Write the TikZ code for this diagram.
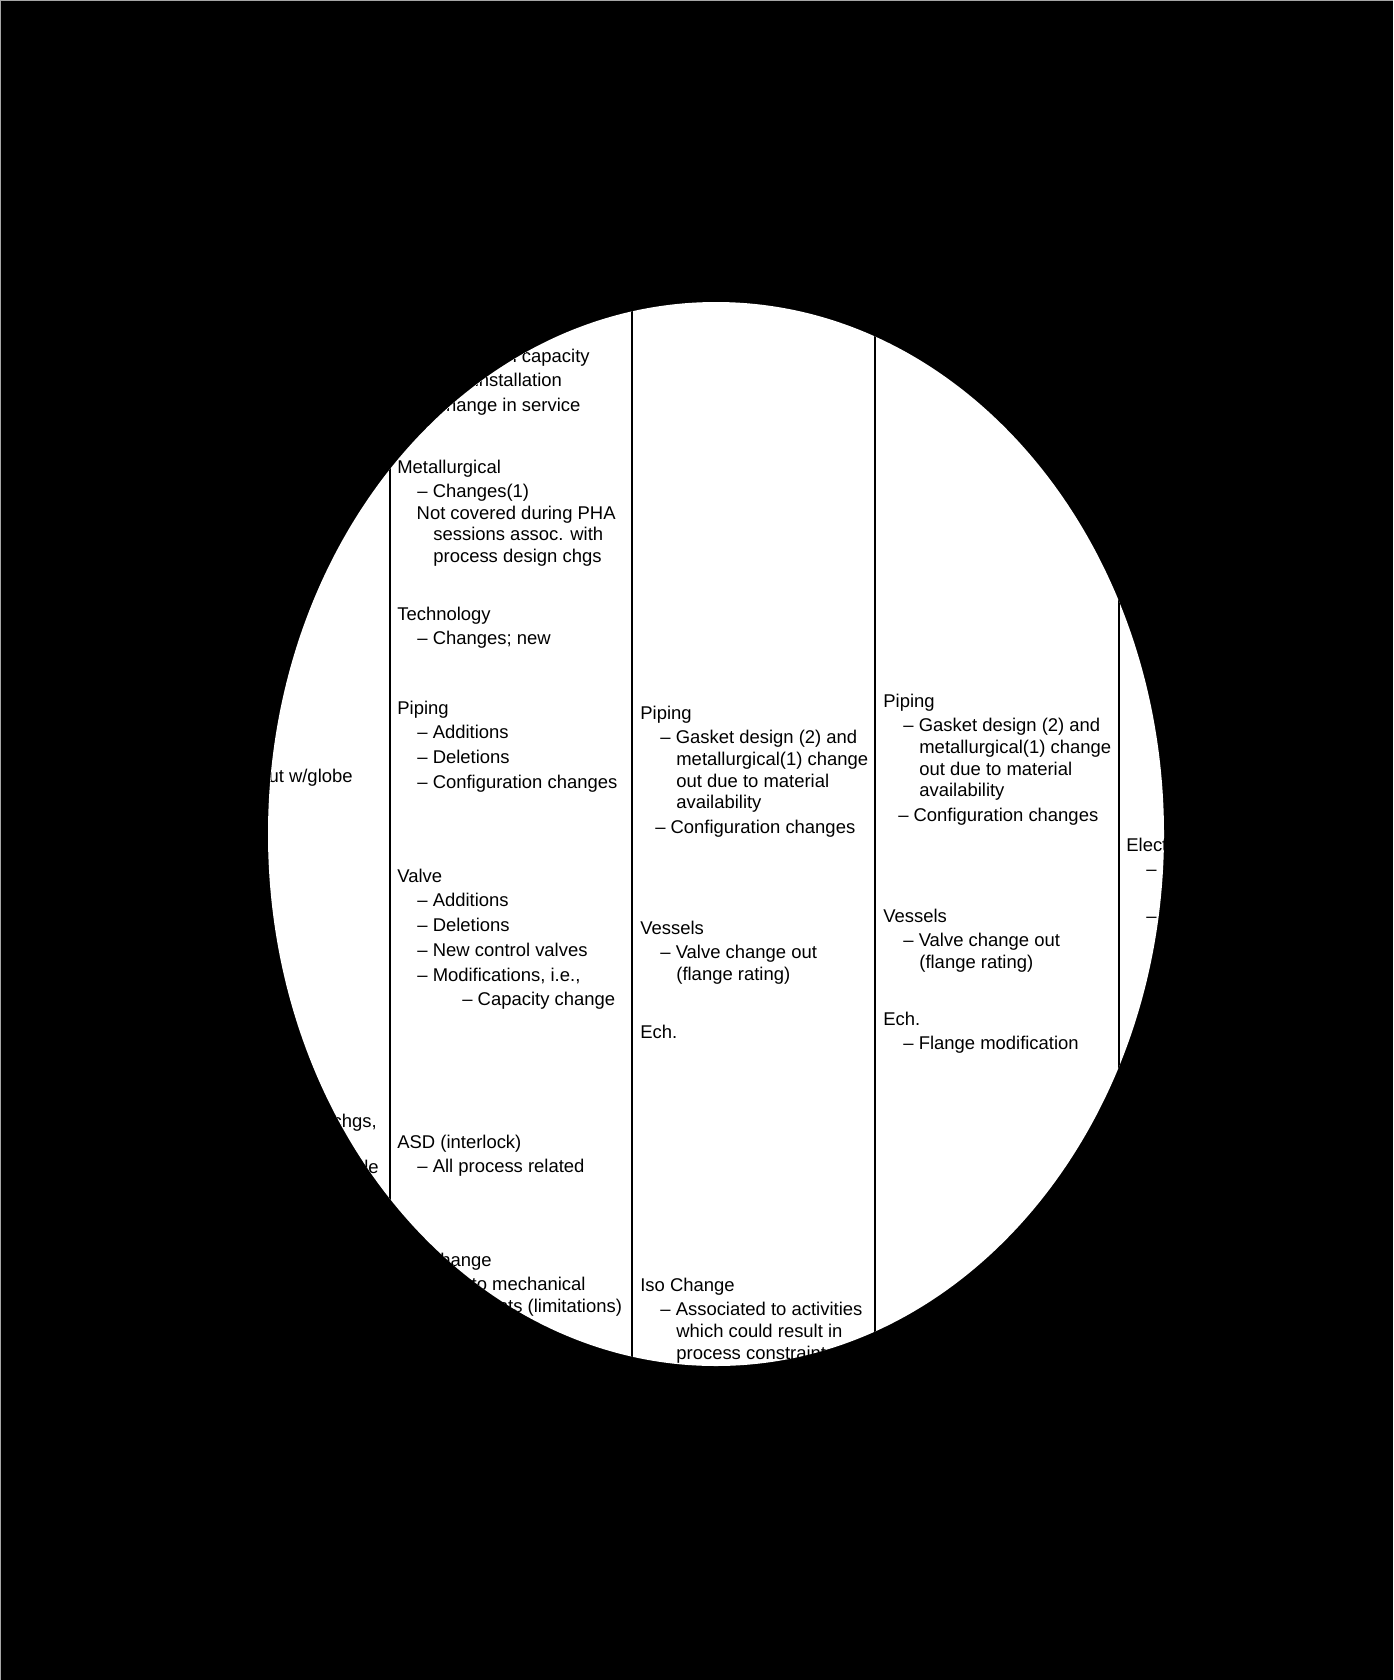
\documentclass[tikz,border=0pt]{standalone}
\usepackage{fontspec}
\setmainfont{Liberation Sans}
\newcommand\chartfont{\fontsize{10.5}{12.3}\selectfont}
\newcommand\itm{\hspace*{11.4pt}–\ }
\newcommand\itmc{\hspace*{8.5pt}–\ }
\newcommand\subitm{\hspace*{37pt}–\ }
\newcommand\cnt{\hspace*{20.5pt}}
\newcommand\blk[1]{\begin{tabular}[t]{@{}l@{}}#1\end{tabular}}
\tikzset{
  block/.style={anchor=base west, inner sep=0pt, font=\chartfont},
  stub/.style={anchor=base east, inner sep=0pt, font=\chartfont},
  colline/.style={line width=1.15pt}
}
\begin{document}
\begin{tikzpicture}[x=0.02cm, y=-0.02cm]
	\useasboundingbox (0,0) rectangle (1393,1680);
	\fill[black] (0,0) rectangle (1393,1680);
	\draw[gray!70, line width=0.6pt] (0.5,1680) -- (0.5,0.5) -- (1393,0.5);
	\begin{scope}
		\clip (716,834) ellipse [x radius=448, y radius=532];
		\fill[white] (0,0) rectangle (1393,1680);
		\foreach \cx in {390,632,875,1119}
			\draw[colline] (\cx,0) -- (\cx,1680);
		% first column (mostly hidden)
		\node[stub] (globe1) at (353,782) {out w/globe};
		\node[stub] (chgs1) at (377,1127) {chgs,};
		\node[stub] (le1) at (379,1173) {le};
		% second column
		\node[block] (capchg2) at (397,362) {\blk{\itm Change in capacity\\[1.8pt]\itm New installation\\[1.8pt]\itm Change in service}};
		\node[block] (metal2) at (397,473) {\blk{Metallurgical\\[1.8pt]\itm Changes(1)\\ \hspace*{11pt}Not covered during PHA\\ \cnt sessions assoc. with\\ \cnt process design chgs}};
		\node[block] (tech2) at (397,620) {\blk{Technology\\[1.8pt]\itm Changes; new}};
		\node[block] (pipe2) at (397,714) {\blk{Piping\\[1.8pt]\itm Additions\\[1.8pt]\itm Deletions\\[1.8pt]\itm Configuration changes}};
		\node[block] (valve2) at (397,882) {\blk{Valve\\[1.8pt]\itm Additions\\[1.8pt]\itm Deletions\\[1.8pt]\itm New control valves\\[1.8pt]\itm Modifications, i.e.,\\[1.8pt]\subitm Capacity change}};
		\node[block] (asd2) at (397,1148) {\blk{ASD (interlock)\\[1.8pt]\itm All process related}};
		\node[block] (iso2) at (397,1266) {\blk{Iso Change\\[1.8pt]\itm Due to mechanical\\ \cnt constraints (limitations)}};
		% third column
		\node[block] (pipe3) at (640,719) {\blk{Piping\\[1.8pt]\itm Gasket design (2) and\\ \cnt metallurgical(1) change\\ \cnt out due to material\\ \cnt availability\\[1.8pt]\itmc Configuration changes}};
		\node[block] (vess3) at (640,934) {\blk{Vessels\\[1.8pt]\itm Valve change out\\ \cnt (flange rating)}};
		\node[block] (ech3) at (640,1038) {Ech.};
		\node[block] (iso3) at (640,1291) {\blk{Iso Change\\[1.8pt]\itm Associated to activities\\ \cnt which could result in\\ \cnt process constraints}};
		% fourth column
		\node[block] (pipe4) at (883,707) {\blk{Piping\\[1.8pt]\itm Gasket design (2) and\\ \cnt metallurgical(1) change\\ \cnt out due to material\\ \cnt availability\\[1.8pt]\itmc Configuration changes}};
		\node[block] (vess4) at (883,922) {\blk{Vessels\\[1.8pt]\itm Valve change out\\ \cnt (flange rating)}};
		\node[block] (ech4) at (883,1025) {\blk{Ech.\\[1.8pt]\itm Flange modification}};
		% fifth column (cut off)
		\node[block] (elec5) at (1126,851) {\blk{Electrical\\[1.8pt]\itm\\ \mbox{}\\[1.8pt]\itm}};
	\end{scope}
\end{tikzpicture}
\end{document}
